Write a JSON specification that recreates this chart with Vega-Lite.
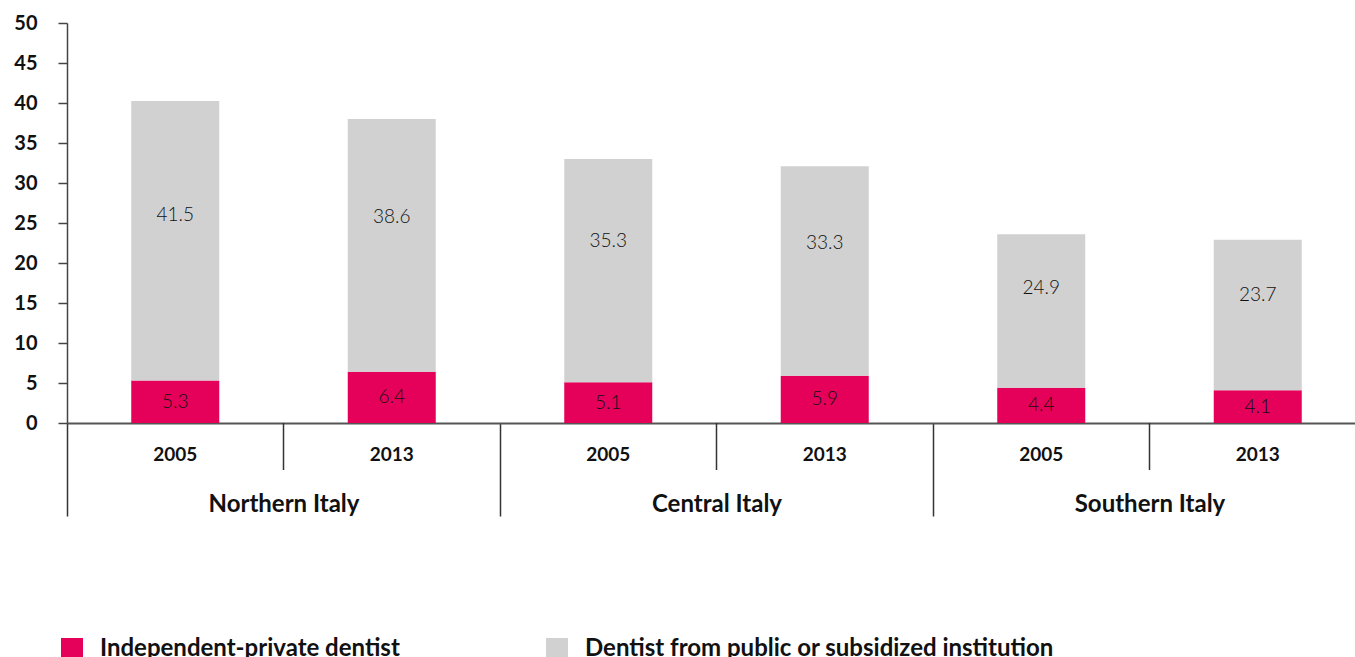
{
  "$schema": "https://vega.github.io/schema/vega-lite/v6.json",
  "width": 1299,
  "height": 400,
  "padding": {"left": 13, "top": 13, "right": 0, "bottom": 0},
  "autosize": {"type": "pad"},
  "config": {"view": {"stroke": null}, "font": "Lato",
    "axisY": {"values": [0, 5, 10, 15, 20, 25, 30, 35, 40, 45, 50], "labelOverlap": false, "title": null,
      "tickSize": 9, "labelPadding": 21, "labelFontSize": 20, "labelFontWeight": "bold",
      "labelColor": "#111", "domainColor": "#444", "domainWidth": 1.5,
      "tickColor": "#444", "tickWidth": 1.5, "grid": false},
    "axisX": {"title": null, "labelAngle": 0, "tickBand": "extent", "tickSize": 93,
      "tickColor": "#333", "tickWidth": 1.5, "domainColor": "#555", "domainWidth": 2,
      "labelPadding": -12, "labelBaseline": "middle", "labelFontSize": 24,
      "labelFontWeight": "bold", "labelColor": "#111"}
  },
  "data": {
    "values": [
      {"region": "Northern Italy", "year": "2005", "series": "Independent-private dentist", "value": 5.3, "label": 5.3},
      {"region": "Northern Italy", "year": "2005", "series": "Dentist from public or subsidized institution", "value": 34.95, "label": 41.5},
      {"region": "Northern Italy", "year": "2013", "series": "Independent-private dentist", "value": 6.4, "label": 6.4},
      {"region": "Northern Italy", "year": "2013", "series": "Dentist from public or subsidized institution", "value": 31.6, "label": 38.6},
      {"region": "Central Italy", "year": "2005", "series": "Independent-private dentist", "value": 5.1, "label": 5.1},
      {"region": "Central Italy", "year": "2005", "series": "Dentist from public or subsidized institution", "value": 27.9, "label": 35.3},
      {"region": "Central Italy", "year": "2013", "series": "Independent-private dentist", "value": 5.9, "label": 5.9},
      {"region": "Central Italy", "year": "2013", "series": "Dentist from public or subsidized institution", "value": 26.2, "label": 33.3},
      {"region": "Southern Italy", "year": "2005", "series": "Independent-private dentist", "value": 4.4, "label": 4.4},
      {"region": "Southern Italy", "year": "2005", "series": "Dentist from public or subsidized institution", "value": 19.2, "label": 24.9},
      {"region": "Southern Italy", "year": "2013", "series": "Independent-private dentist", "value": 4.1, "label": 4.1},
      {"region": "Southern Italy", "year": "2013", "series": "Dentist from public or subsidized institution", "value": 18.8, "label": 23.7}
    ]
  },
  "layer": [
    {
      "mark": {"type": "bar"},
      "encoding": {
        "x": {
          "field": "region", "type": "nominal",
          "sort": ["Northern Italy", "Central Italy", "Southern Italy"],
          "scale": {"paddingInner": 0, "paddingOuter": 0}
        },
        "xOffset": {
          "field": "year", "type": "nominal",
          "scale": {"paddingInner": 0.5935, "paddingOuter": 0.29675}
        },
        "y": {
          "field": "value", "type": "quantitative", "stack": "zero",
          "scale": {"domain": [0, 50], "nice": false}
        },
        "color": {
          "field": "series", "type": "nominal",
          "scale": {
            "domain": ["Independent-private dentist", "Dentist from public or subsidized institution"],
            "range": ["#E5005A", "#D0D1D0"]
          },
          "legend": {
            "title": null, "orient": "none", "legendX": -7, "legendY": 614,
            "direction": "horizontal", "columns": 2, "symbolType": "square",
            "symbolSize": 484, "symbolStrokeWidth": 0, "labelFontSize": 24,
            "labelFontWeight": "bold", "labelColor": "#111", "labelOffset": 16,
            "columnPadding": 145, "labelLimit": 700
          }
        },
        "order": {"field": "series", "sort": "descending"}
      }
    },
    {
      "transform": [
        {"stack": "label", "groupby": ["region", "year"], "sort": [{"field": "series", "order": "descending"}], "as": ["ly0", "ly1"]},
        {"fold": ["ly0", "ly1"], "as": ["k", "v"]}
      ],
      "mark": {"type": "text", "baseline": "middle", "fontSize": 19, "fontWeight": 300, "color": "#111"},
      "encoding": {
        "x": {"field": "region", "type": "nominal", "sort": ["Northern Italy", "Central Italy", "Southern Italy"]},
        "xOffset": {"field": "year", "type": "nominal"},
        "y": {"aggregate": "mean", "field": "v", "type": "quantitative"},
        "detail": {"field": "series", "type": "nominal"},
        "text": {"field": "label", "type": "quantitative", "format": ".1f"}
      }
    },
    {
      "transform": [{"filter": "datum.series == 'Independent-private dentist'"}],
      "mark": {"type": "text", "baseline": "middle", "dy": 32, "fontSize": 19, "fontWeight": "bold", "color": "#111"},
      "encoding": {
        "x": {"field": "region", "type": "nominal", "sort": ["Northern Italy", "Central Italy", "Southern Italy"]},
        "xOffset": {"field": "year", "type": "nominal"},
        "y": {"datum": 0, "type": "quantitative"},
        "text": {"field": "year", "type": "nominal"}
      }
    },
    {
      "transform": [{"filter": "datum.series == 'Independent-private dentist' && datum.year == '2005'"}],
      "mark": {"type": "rule", "color": "#333", "strokeWidth": 1.5},
      "encoding": {
        "x": {"field": "region", "type": "nominal", "sort": ["Northern Italy", "Central Italy", "Southern Italy"], "bandPosition": 0.5},
        "y": {"datum": 0, "type": "quantitative"},
        "y2": {"datum": -5.875}
      }
    }
  ]
}
